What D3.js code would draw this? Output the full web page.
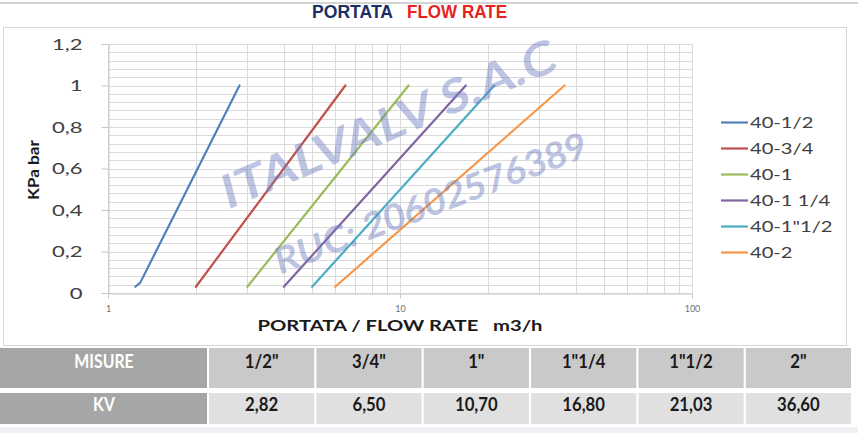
<!DOCTYPE html>
<html>
<head>
<meta charset="utf-8">
<script src="https://cdn.jsdelivr.net/npm/d3@7"></script>
<style>
  html, body { margin: 0; padding: 0; background: #ffffff; }
  svg { display: block; }
  text { font-family: Lato, "Open Sans", sans-serif; }
</style>
</head>
<body>
<svg id="chart" width="858" height="433"></svg>
<script>
// ---------- DATA ----------
const seriesNames = ["40-1/2", "40-3/4", "40-1", "40-1 1/4", "40-1\"1/2", "40-2"];
const seriesColors = ["#4F81BD", "#C0504D", "#9BBB59", "#8064A2", "#4BACC6", "#F79646"];
// flow rate (m3/h) vs pressure drop (bar)
const s_12  = [[1.24, 0.03], [1.29, 0.05], [2.82, 1.0]];
const s_34  = [[2.00, 0.03], [6.50, 1.0]];
const s_1   = [[3.00, 0.03], [10.7, 1.0]];
const s_114 = [[4.00, 0.03], [16.8, 1.0]];
const s_112 = [[5.00, 0.03], [21.03, 1.0]];
const s_2   = [[6.00, 0.03], [36.6, 1.0]];
const seriesData = [s_12, s_34, s_1, s_114, s_112, s_2];

const xTickValues = [1, 10, 100];
const yTickValues = [0, 0.2, 0.4, 0.6, 0.8, 1.0, 1.2];

const tableSizes = ["1/2\"", "3/4\"", "1\"", "1\"1/4", "1\"1/2", "2\""];
const tableKv = [2.82, 6.50, 10.70, 16.80, 21.03, 36.60];

// ---------- HELPERS ----------
function stretch(sel, k) {
  sel.each(function () {
    const w = this.getComputedTextLength();
    this.setAttribute("textLength", w * k);
    this.setAttribute("lengthAdjust", "spacingAndGlyphs");
  });
  return sel;
}
function fitTo(sel, w) {
  sel.attr("textLength", w).attr("lengthAdjust", "spacingAndGlyphs");
  return sel;
}
const commaNum = d => String(+d.toFixed(2)).replace(".", ",");

// ---------- SVG ----------
const svg = d3.select("#chart");

// top shadow line
svg.append("line").attr("x1", 0).attr("x2", 858).attr("y1", 3).attr("y2", 3)
  .attr("stroke", "#d4d4d4").attr("stroke-width", 2);

// chart border
svg.append("rect").attr("x", 3.5).attr("y", 27.5).attr("width", 843).attr("height", 318)
  .attr("fill", "#ffffff").attr("stroke", "#d6d6d6").attr("stroke-width", 1);

// title
const t1 = svg.append("text").attr("x", 312).attr("y", 17.5)
  .attr("font-size", 19).attr("font-weight", 700).attr("fill", "#1b2f66")
  .style("font-family", "'Liberation Sans Narrow', 'Liberation Sans', sans-serif")
  .text("PORTATA");
fitTo(t1, 81);
const t2 = svg.append("text").attr("x", 407).attr("y", 17.5)
  .attr("font-size", 19).attr("font-weight", 700).attr("fill", "#e8231f")
  .style("font-family", "'Liberation Sans Narrow', 'Liberation Sans', sans-serif")
  .text("FLOW RATE");
fitTo(t2, 100);

// scales
const x = d3.scaleLog().domain([1, 100]).range([108, 692]);
const y = d3.scaleLinear().domain([0, 1.2]).range([293, 44]);

const grid = svg.append("g");
// horizontal minor gridlines (0.04 step)
const yMinor = d3.range(0, 31).map(i => i * 0.04);
grid.selectAll(".hg").data(yMinor).join("line")
  .attr("x1", x(1)).attr("x2", x(100))
  .attr("y1", d => Math.round(y(d)) + 0.5).attr("y2", d => Math.round(y(d)) + 0.5)
  .attr("stroke", "#dadada").attr("stroke-width", 1);
// vertical log gridlines
const xMinor = [];
[1, 10].forEach(dec => { for (let k = 1; k <= 9; k++) xMinor.push(dec * k); });
xMinor.push(100);
grid.selectAll(".vg").data(xMinor).join("line")
  .attr("x1", d => Math.round(x(d)) + 0.5).attr("x2", d => Math.round(x(d)) + 0.5)
  .attr("y1", y(1.2)).attr("y2", y(0))
  .attr("stroke", "#dadada").attr("stroke-width", 1);

// axes
const yAxis = d3.axisLeft(y).tickValues(yTickValues).tickSize(7).tickFormat(commaNum);
const gy = svg.append("g").attr("transform", `translate(${x(1) + 0.5},0)`).call(yAxis);
gy.select(".domain").attr("stroke", "#c8c8c8");
gy.selectAll(".tick line").attr("stroke", "#c8c8c8");
gy.selectAll(".tick text").attr("x", -26).attr("font-size", 16).attr("fill", "#404040")
  .style("font-family", "Lato, sans-serif");
stretch(gy.selectAll(".tick text"), 1.38);

const xAxis = d3.axisBottom(x).tickValues(xTickValues).tickSize(5).tickFormat(d3.format("d"));
const gx = svg.append("g").attr("transform", `translate(0,${Math.round(y(0)) + 0.5})`).call(xAxis);
gx.select(".domain").attr("stroke", "#c8c8c8");
gx.selectAll(".tick line").attr("stroke", "#c8c8c8");
gx.selectAll(".tick text").attr("y", 12).attr("font-size", 9).attr("fill", "#707070");

// axis titles
const xt = svg.append("text").attr("x", 400).attr("y", 331).attr("text-anchor", "middle")
  .attr("font-size", 16).attr("font-weight", 700).attr("fill", "#1a1a1a")
  .attr("xml:space", "preserve")
  .text("PORTATA / FLOW RATE   m3/h");
fitTo(xt, 285);
const yt = svg.append("text").attr("transform", "translate(39,170) rotate(-90)")
  .attr("text-anchor", "middle").attr("font-size", 15).attr("font-weight", 700)
  .attr("fill", "#1a1a1a").text("KPa  bar");
fitTo(yt, 60);

// lines
const line = d3.line().x(d => x(d[0])).y(d => y(d[1]));
svg.append("g").selectAll("path").data(seriesData).join("path")
  .attr("d", line).attr("fill", "none")
  .attr("stroke", (d, i) => seriesColors[i]).attr("stroke-width", 2.2)
  .attr("stroke-linecap", "round").attr("stroke-linejoin", "round");

// legend
const leg = svg.append("g").selectAll("g").data(seriesNames).join("g")
  .attr("transform", (d, i) => `translate(721,${122.5 + i * 26})`);
leg.append("line").attr("x1", 0).attr("x2", 27).attr("y1", 0).attr("y2", 0)
  .attr("stroke", (d, i) => seriesColors[i]).attr("stroke-width", 2.2);
const lt = leg.append("text").attr("x", 29).attr("y", 5.5).attr("font-size", 15.5)
  .attr("fill", "#404040").text(d => d);
stretch(lt, 1.3);

// watermark
const wm = svg.append("g").attr("fill", "#6f7fc0").attr("opacity", 0.45)
  .attr("font-weight", 700).style("font-family", "'Liberation Sans', Arial, sans-serif");
const w1 = wm.append("text").attr("transform", "translate(227,210) rotate(-23) skewX(-8)")
  .attr("font-size", 46).text("ITALVALV S.A.C");
fitTo(w1, 360);
const w2 = wm.append("text").attr("transform", "translate(279,275) rotate(-21) skewX(-6)")
  .attr("font-size", 36).text("RUC: 20602576389");
fitTo(w2, 332);

// table
const colX = d3.scaleBand().domain(d3.range(tableSizes.length)).range([209, 851]).paddingInner(0.02);
const rows = [
  { label: "MISURE", y0: 348, h: 40, fill: "#c9c9c9", vals: tableSizes, ty: 368 },
  { label: "KV", y0: 393, h: 31, fill: "#e0e0e0", vals: tableKv.map(v => d3.format(".2f")(v).replace(".", ",")), ty: 411 }
];
const tg = svg.append("g");
rows.forEach(r => {
  tg.append("rect").attr("x", 0).attr("y", r.y0).attr("width", 207).attr("height", r.h).attr("fill", "#a6a6a6");
  const lab = tg.append("text").attr("x", 104).attr("y", r.ty).attr("text-anchor", "middle")
    .attr("font-size", 18).attr("font-weight", 700).attr("fill", "#ffffff").text(r.label);
  stretch(lab, 0.88);
  tg.selectAll(null).data(r.vals).join("rect")
    .attr("x", (d, i) => colX(i)).attr("y", r.y0).attr("width", colX.bandwidth()).attr("height", r.h)
    .attr("fill", r.fill);
  const vt = tg.selectAll(null).data(r.vals).join("text")
    .attr("x", (d, i) => colX(i) + colX.bandwidth() / 2).attr("y", r.ty)
    .attr("text-anchor", "middle").attr("font-size", 19).attr("font-weight", 700)
    .attr("fill", "#1a1a1a").text(d => d);
  stretch(vt, 0.88);
});

// bottom faint strip
svg.append("rect").attr("x", 0).attr("y", 427).attr("width", 858).attr("height", 6).attr("fill", "#eef0f4");
</script>
</body>
</html>
